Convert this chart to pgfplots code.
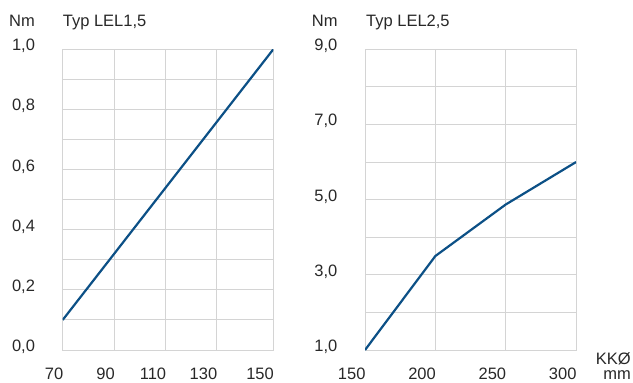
\documentclass[border=0pt]{standalone}
\usepackage{fontspec}
\setmainfont{Liberation Sans}
\usepackage{pgfplots}
\pgfplotsset{compat=1.18}
\definecolor{linecol}{RGB}{12,80,134}
\definecolor{gridcol}{RGB}{212,212,212}
\definecolor{txt}{RGB}{40,40,40}
\newcommand{\lbl}{\fontsize{16.5bp}{19bp}\selectfont}
\pgfplotsset{mystyle/.style={
  scale only axis,
  axis line style={gridcol, line width=1bp},
  major tick length=0pt, minor tick length=0pt,
  grid=both,
  major grid style={gridcol, line width=1bp},
  minor grid style={gridcol, line width=1bp},
  tick label style={font=\lbl, text=txt, inner sep=0pt},
  xticklabel style={anchor=base east, yshift=-29.7bp, xshift=0.7bp},
  yticklabel style={anchor=base east, xshift=-27.5bp, yshift=-1.5bp},
  /pgf/number format/assume math mode=true,
}}
\begin{document}
\begin{tikzpicture}[x=1bp,y=1bp]
\path (0,0) rectangle (633,382);
\begin{axis}[mystyle, at={(62.7bp,32bp)}, anchor=south west,
  width=210.6bp, height=300.7bp,
  xmin=70, xmax=150, ymin=0, ymax=1,
  xtick={70,89.6,109.1,128.5,150}, xticklabels={70,90,110,130,150},
  ytick={0,0.2,0.4,0.6,0.8,1},
  yticklabels={{0,0},{0,2},{0,4},{0,6},{0,8},{1,0}},
  minor ytick={0.1,0.3,0.5,0.7,0.9}]
\addplot[linecol, line width=2.2bp] coordinates {(70,0.1) (150,1.0)};
\end{axis}
\begin{axis}[mystyle, at={(365bp,32bp)}, anchor=south west,
  width=211bp, height=300.7bp,
  xmin=150, xmax=300, ymin=1, ymax=9,
  xtick={150,200,250,300},
  ytick={1,3,5,7,9},
  yticklabels={{1,0},{3,0},{5,0},{7,0},{9,0}},
  minor ytick={2,4,6,8}]
\addplot[linecol, line width=2.2bp] coordinates {(150,1.0) (200,3.5) (250,4.87) (300,6.0)};
\end{axis}
\node[anchor=base east, font=\lbl, text=txt, inner sep=0pt] at (35,356) {Nm};
\node[anchor=base west, font=\lbl, text=txt, inner sep=0pt] at (62.7,356) {Typ LEL1,5};
\node[anchor=base east, font=\lbl, text=txt, inner sep=0pt] at (337.7,356) {Nm};
\node[anchor=base west, font=\lbl, text=txt, inner sep=0pt] at (366,356) {Typ LEL2,5};
\node[anchor=base east, font=\lbl, text=txt, inner sep=0pt] at (631,17.3) {KKØ};
\node[anchor=base east, font=\lbl, text=txt, inner sep=0pt] at (631,2.2) {mm};
\end{tikzpicture}
\end{document}
